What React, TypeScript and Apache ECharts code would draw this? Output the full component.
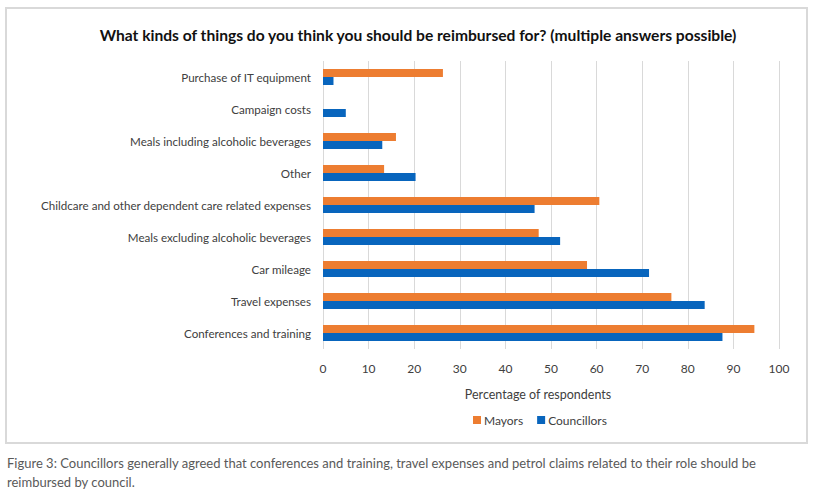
import React, { useEffect, useRef } from "react";
import * as echarts from "echarts";

const categories = [
  "Purchase of IT equipment",
  "Campaign costs",
  "Meals including alcoholic beverages",
  "Other",
  "Childcare and other dependent care related expenses",
  "Meals excluding alcoholic beverages",
  "Car mileage",
  "Travel expenses",
  "Conferences and training",
];
const mayors = [26.3, 0, 16.0, 13.4, 60.6, 47.3, 57.9, 76.4, 94.6];
const councillors = [2.3, 5.0, 13.0, 20.3, 46.4, 52.0, 71.5, 83.7, 87.6];
const titleText = "What kinds of things do you think you should be reimbursed for? (multiple answers possible)";
const axisTitle = "Percentage of respondents";
const captionLines = [
  "Figure 3: Councillors generally agreed that conferences and training, travel expenses and petrol claims related to their role should be",
  "reimbursed by council.",
];

const FONT = "Lato, 'Noto Sans', sans-serif";

export default function App() {
  const ref = useRef<HTMLDivElement>(null);
  useEffect(() => {
    document.body.style.margin = "0";
    const chart = echarts.init(ref.current!, null, { renderer: "svg" });
    chart.setOption({
      animation: false,
      textStyle: { fontFamily: FONT },
      title: {
        text: titleText,
        left: 413,
        textAlign: "center",
        top: 22,
        textStyle: { fontSize: 15.6, fontWeight: "bold", color: "#111", fontFamily: FONT },
      },
      legend: {
        data: ["Mayors", "Councillors"],
        left: 468,
        top: 409,
        itemWidth: 8,
        itemHeight: 8,
        itemGap: 14,
        icon: "rect",
        textStyle: { fontSize: 12, color: "#404040", padding: [0, 0, 0, -2] },
      },
      grid: { left: 323, right: 39, top: 61, bottom: 147, containLabel: false },
      xAxis: {
        type: "value",
        min: 0,
        max: 100,
        interval: 10,
        axisLine: { show: false },
        axisTick: { show: false },
        axisLabel: { color: "#404040", fontSize: 12, margin: 13 },
        splitLine: { lineStyle: { color: "#d9d9d9", width: 1 } },
      },
      yAxis: {
        type: "category",
        data: categories,
        inverse: true,
        axisLine: { show: false },
        axisTick: { show: false },
        axisLabel: { color: "#404040", fontSize: 11.6, margin: 12 },
      },
      series: [
        {
          name: "Mayors",
          type: "bar",
          data: mayors,
          barWidth: 8,
          barGap: "0%",
          itemStyle: { color: "#ED7D31" },
        },
        {
          name: "Councillors",
          type: "bar",
          data: councillors,
          barWidth: 8,
          barGap: "0%",
          itemStyle: { color: "#0865BD" },
        },
      ],
      graphic: [
        {
          type: "rect",
          shape: { x: 6, y: 8, width: 801, height: 435 },
          style: { fill: "none", stroke: "#d9d9d9", lineWidth: 2 },
          silent: true,
          z: -1,
        },
        {
          type: "text",
          x: 538,
          y: 394,
          style: {
            text: axisTitle,
            fill: "#404040",
            font: `12.5px ${FONT}`,
            textAlign: "center",
            textVerticalAlign: "middle",
          },
        },
        {
          type: "text",
          x: 7,
          y: 463,
          style: {
            text: captionLines[0],
            fill: "#595959",
            font: `13px ${FONT}`,
            textAlign: "left",
            textVerticalAlign: "middle",
          },
        },
        {
          type: "text",
          x: 7,
          y: 482,
          style: {
            text: captionLines[1],
            fill: "#595959",
            font: `13px ${FONT}`,
            textAlign: "left",
            textVerticalAlign: "middle",
          },
        },
      ],
    });
    return () => chart.dispose();
  }, []);
  return <div ref={ref} style={{ width: 818, height: 496 }} />;
}
